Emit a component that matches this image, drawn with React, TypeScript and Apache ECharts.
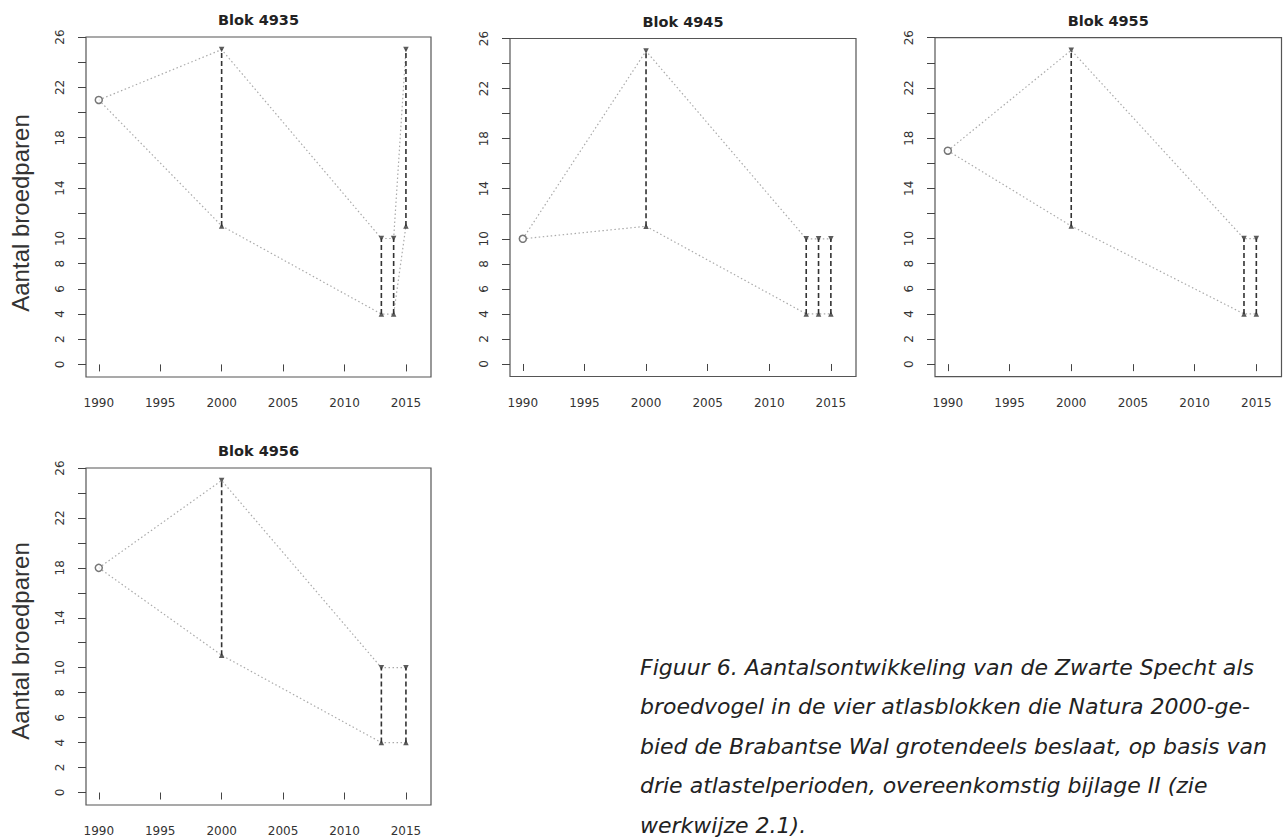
import React, { useEffect, useRef } from "react";
import * as echarts from "echarts";

const blockTitles = ["Blok 4935", "Blok 4945", "Blok 4955", "Blok 4956"];
const start1990 = [21, 10, 17, 18];
const rangeYears = [
  [2000, 2013, 2014, 2015],
  [2000, 2013, 2014, 2015],
  [2000, 2014, 2015],
  [2000, 2013, 2015],
];
const lowValues = [
  [11, 4, 4, 11],
  [11, 4, 4, 4],
  [11, 4, 4],
  [11, 4, 4],
];
const highValues = [
  [25, 10, 10, 25],
  [25, 10, 10, 10],
  [25, 10, 10],
  [25, 10, 10],
];
const xTicks = [1990, 1995, 2000, 2005, 2010, 2015];
const yTicks = [0, 2, 4, 6, 8, 10, 12, 14, 16, 18, 20, 22, 24, 26];
const yLabels = [0, 2, 4, 6, 8, 10, 14, 18, 22, 26];
const yAxisName = "Aantal broedparen";
const captionLines = [
  "Figuur 6. Aantalsontwikkeling van de Zwarte Specht als",
  "broedvogel in de vier atlasblokken die Natura 2000-ge-",
  "bied de Brabantse Wal grotendeels beslaat, op basis van",
  "drie atlastelperioden, overeenkomstig bijlage II (zie",
  "werkwijze 2.1).",
];

const grids = [
  { left: 86, top: 37, width: 345, height: 340 },
  { left: 510, top: 38.5, width: 346, height: 338 },
  { left: 935, top: 37.7, width: 346.5, height: 339 },
  { left: 86, top: 468, width: 345, height: 337 },
];

const FONT = "DejaVu Sans";

export default function App() {
  const ref = useRef<HTMLDivElement>(null);
  useEffect(() => {
    const chart = echarts.init(ref.current!, null, { renderer: "svg" });
    const xAxes: any[] = [];
    const yAxes: any[] = [];
    const series: any[] = [];
    const graphics: any[] = [];

    grids.forEach((g, i) => {
      xAxes.push({
        type: "value",
        gridIndex: i,
        min: 1988.96,
        max: 2017.04,
        axisLine: { show: false },
        splitLine: { show: false },
        axisTick: { show: true, length: 7, lineStyle: { color: "#444", width: 1 }, customValues: xTicks },
        axisLabel: {
          customValues: xTicks, fontSize: 12, color: "#333", margin: 20, fontFamily: FONT,
          formatter: (v: number) => String(v),
        },
      });
      yAxes.push({
        type: "value",
        gridIndex: i,
        min: -1,
        max: 26,
        axisLine: { show: false },
        splitLine: { show: false },
        axisTick: { show: true, length: 8, lineStyle: { color: "#444", width: 1 }, customValues: yTicks },
        axisLabel: {
          customValues: yLabels,
          rotate: 90,
          align: "center",
          verticalAlign: "bottom",
          fontSize: 12,
          color: "#333",
          margin: 20,
          fontFamily: FONT,
          formatter: (v: number) => String(v),
        },
      });
      const yrs = rangeYears[i];
      const lo = lowValues[i];
      const hi = highValues[i];
      const upper = [[1990, start1990[i]], ...yrs.map((y, k) => [y, hi[k]])];
      const lower = [[1990, start1990[i]], ...yrs.map((y, k) => [y, lo[k]])];
      const dotted = { color: "#aaaaaa", width: 1.2, type: [1.5, 2.5] };
      series.push({
        type: "line", xAxisIndex: i, yAxisIndex: i, data: upper, symbol: "none",
        lineStyle: dotted, z: 2,
      });
      series.push({
        type: "line", xAxisIndex: i, yAxisIndex: i, data: lower, symbol: "none",
        lineStyle: dotted, z: 2,
      });
      series.push({
        type: "custom",
        xAxisIndex: i,
        yAxisIndex: i,
        coordinateSystem: "cartesian2d",
        encode: { x: 0, y: [1, 2] },
        data: yrs.map((y, k) => [y, lo[k], hi[k]]),
        z: 3,
        renderItem: (params: any, api: any) => {
          const p1 = api.coord([api.value(0), api.value(1)]);
          const p2 = api.coord([api.value(0), api.value(2)]);
          return {
            type: "line",
            shape: { x1: p1[0], y1: p1[1], x2: p2[0], y2: p2[1] },
            style: { stroke: "#333", lineWidth: 1.6, lineDash: [5, 3] },
          };
        },
      });
      series.push({
        type: "scatter", xAxisIndex: i, yAxisIndex: i, symbol: "triangle", symbolSize: 5.5,
        data: yrs.map((y, k) => [y, lo[k]]), itemStyle: { color: "#333" }, z: 4,
      });
      series.push({
        type: "scatter", xAxisIndex: i, yAxisIndex: i, symbol: "triangle", symbolSize: 5.5, symbolRotate: 180,
        data: yrs.map((y, k) => [y, hi[k]]), itemStyle: { color: "#333" }, z: 4,
      });
      series.push({
        type: "scatter", xAxisIndex: i, yAxisIndex: i, symbol: "circle", symbolSize: 7,
        data: [[1990, start1990[i]]],
        itemStyle: { color: "#fff", borderColor: "#555", borderWidth: 1.5 }, z: 5,
      });
      graphics.push({
        type: "text",
        x: g.left + g.width / 2,
        y: g.top - 17,
        style: {
          text: blockTitles[i], fontFamily: FONT, fontWeight: "bold", fontSize: 14.5,
          fill: "#222", textAlign: "center", textVerticalAlign: "middle",
        },
      });
    });

    [213, 641].forEach((cy) => {
      graphics.push({
        type: "text",
        x: 20,
        y: cy,
        rotation: Math.PI / 2,
        style: {
          text: yAxisName, fontFamily: "Liberation Sans", fontSize: 24, fill: "#333",
          textAlign: "center", textVerticalAlign: "middle",
        },
      });
    });

    captionLines.forEach((line, k) => {
      graphics.push({
        type: "text",
        x: 640,
        y: 667 + k * 39.5,
        style: {
          text: line, fontFamily: FONT, fontStyle: "italic", fontSize: 22, fill: "#222",
          textAlign: "left", textVerticalAlign: "middle",
        },
      });
    });

    chart.setOption({
      animation: false,
      backgroundColor: "#fff",
      grid: grids.map((g) => ({ ...g, show: true, borderColor: "#555", borderWidth: 1.2, backgroundColor: "transparent" })),
      xAxis: xAxes,
      yAxis: yAxes,
      series,
      graphic: graphics,
    });
    return () => chart.dispose();
  }, []);
  return <div ref={ref} style={{ position: "fixed", left: 0, top: 0, width: 1285, height: 840 }} />;
}
